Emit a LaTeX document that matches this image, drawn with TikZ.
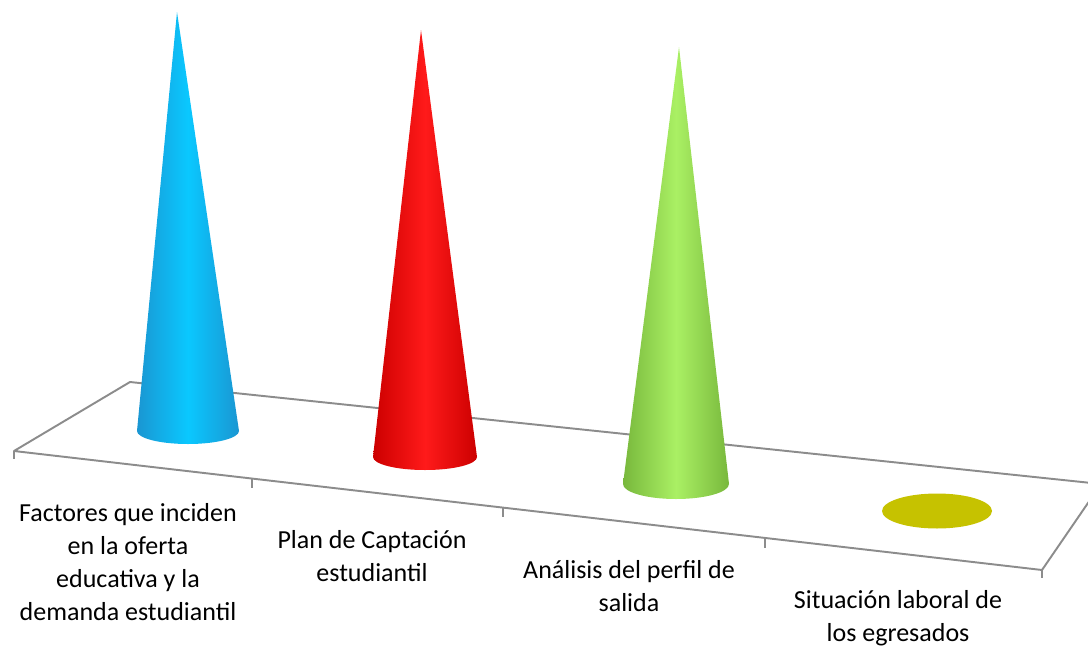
\documentclass[tikz,border=0pt]{standalone}
\usepackage{fontspec}
\setmainfont{Carlito}
\usetikzlibrary{calc}
\definecolor{floorgray}{HTML}{8C8C8C}
\definecolor{bluedark}{HTML}{1A96D2}
\definecolor{bluelight}{HTML}{0AC8FF}
\definecolor{reddark}{HTML}{CC0000}
\definecolor{redlight}{HTML}{FF1A1A}
\definecolor{greendark}{HTML}{78B83C}
\definecolor{greenlight}{HTML}{AAF064}
\definecolor{yellowbase}{HTML}{C6C200}
\tikzset{
	floorline/.style={draw=floorgray, line width=1.1pt},
	catlabel/.style={align=center, font=\fontsize{14.8}{18.8}\selectfont}
}
\def\cone[#1](#2)(#3,#4)(#5:#6){\path[#1] (#2) -- ($(#3,#4)-(#5,0)$) arc (180:360:#5*0.02cm and #6*0.02cm) -- cycle;}

\begin{document}
\begin{tikzpicture}[x=0.02cm, y=-0.02cm]
		%%%%% START %%%%%
		\useasboundingbox (0, 0) rectangle (1088, 649);
		\clip (0, 0) rectangle (1088, 649);
		
		% floor
		\coordinate (bl) at (130, 382);
		\coordinate (fl) at (14, 451);
		\coordinate (fr) at (1042, 570);
		\coordinate (br) at (1101, 484);
		\draw[floorline, line join=round] (bl) -- (fl) -- (fr) -- (br) -- cycle;
		\draw[floorline] (14, 451) -- (14, 459);
		\draw[floorline] (252, 479) -- (252, 488);
		\draw[floorline] (503, 508) -- (503, 517);
		\draw[floorline] (765, 539) -- (765, 548);
		\draw[floorline] (1042, 570) -- (1042, 578);
		
		% cones
		\coordinate (tipA) at (177, 12);
		\cone[left color=bluedark, right color=bluedark, middle color=bluelight](tipA)(188,431)(51:13);
		
		\coordinate (tipB) at (421, 30);
		\cone[left color=reddark, right color=reddark, middle color=redlight](tipB)(425,457)(52:13);
		
		\coordinate (tipC) at (679, 47);
		\cone[left color=greendark, right color=greendark, middle color=greenlight](tipC)(676,484)(53:15);
		
		\fill[yellowbase] (937, 511) ellipse (1.1cm and 0.35cm);
		
		% labels
		\node[catlabel] (factores) at (128, 562) {Factores que inciden\\en la oferta\\educativa y la\\demanda estudiantil};
		\node[catlabel] (plan) at (372, 556) {Plan de Captación\\estudiantil};
		\node[catlabel] (perfil) at (629, 586) {Análisis del perfil de\\salida};
		\node[catlabel] (situacion) at (898, 618) {Situación laboral de\\los egresados};
		%%%%% END %%%%%
	\end{tikzpicture}
\end{document}
